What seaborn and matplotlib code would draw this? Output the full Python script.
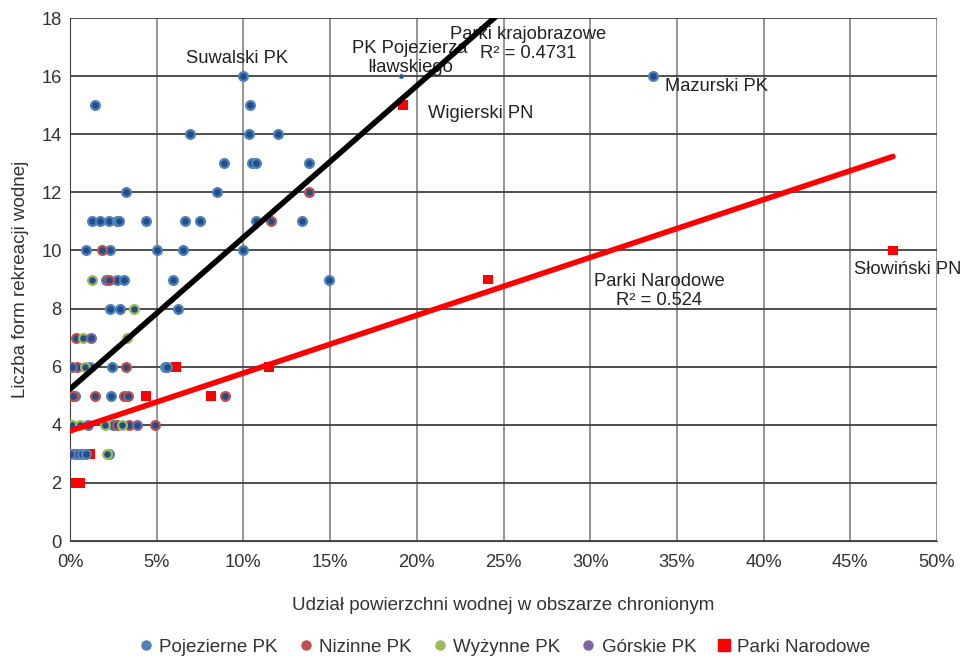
import numpy as np
import pandas as pd
import matplotlib
matplotlib.use("Agg")
import matplotlib.pyplot as plt
from matplotlib.lines import Line2D
from matplotlib.ticker import FuncFormatter
import seaborn as sns

# --- data (x = % water area, y = number of water recreation forms) ---
pojezierne_x = [10.0, 33.6, 1.45, 10.4, 6.9, 10.3, 12.0, 8.9, 10.5, 10.7, 13.8, 3.2, 8.5,
                1.25, 1.75, 2.23, 2.69, 2.84, 4.4, 6.63, 7.5, 10.7, 13.4,
                0.92, 2.3, 5.0, 6.5, 10.0,
                2.08, 2.71, 3.11, 5.94, 14.94,
                2.3, 2.88, 6.24,
                1.15, 2.4, 5.45, 5.6,
                0.29, 2.35,
                2.48,
                0.29, 0.46, 0.67, 0.92, 2.25]
pojezierne_y = [16, 16, 15, 15, 14, 14, 14, 13, 13, 13, 13, 12, 12,
                11, 11, 11, 11, 11, 11, 11, 11, 11, 11,
                10, 10, 10, 10, 10,
                9, 9, 9, 9, 9,
                8, 8, 8,
                6, 6, 6, 6,
                5, 5,
                4,
                3, 3, 3, 3, 3]
ilawski_x = [19.1]
ilawski_y = [16]

nizinne_x = [13.8, 11.6, 1.85, 2.25, 0.33, 0.39, 3.23, 0.16, 1.44, 3.09, 3.36, 8.94, 2.71, 3.42, 4.9]
nizinne_y = [12, 11, 10, 9, 7, 6, 6, 5, 5, 5, 5, 5, 4, 4, 4]

wyzynne_x = [1.28, 3.69, 0.77, 3.27, 0.87, 0.1, 0.58, 2.02, 2.98, 2.12]
wyzynne_y = [9, 8, 7, 7, 6, 4, 4, 4, 4, 3]

gorskie_x = [1.19, 0.1, 1.04, 3.88, 0.0]
gorskie_y = [7, 6, 4, 4, 3]

pn_x = [0.1, 0.35, 0.6, 0.46, 1.15, 4.38, 8.11, 6.11, 11.48, 24.1, 19.2, 47.46]
pn_y = [2, 2, 2, 3, 3, 5, 5, 6, 6, 9, 15, 10]

# linear trendlines as shown on the chart (intercept, slope per 1 %)
pk_trend = (5.23, 0.522)
pn_trend = (3.79, 0.199)

categories = ["Pojezierne PK", "Nizinne PK", "Wyżynne PK", "Górskie PK"]
edge_colors = ["#4F81BD", "#C0504D", "#9BBB59", "#8064A2"]
fill_color = "#1F4E89"

pk = pd.concat([
    pd.DataFrame({"x": pojezierne_x, "y": pojezierne_y, "typ": categories[0]}),
    pd.DataFrame({"x": nizinne_x, "y": nizinne_y, "typ": categories[1]}),
    pd.DataFrame({"x": wyzynne_x, "y": wyzynne_y, "typ": categories[2]}),
    pd.DataFrame({"x": gorskie_x, "y": gorskie_y, "typ": categories[3]}),
    pd.DataFrame({"x": ilawski_x, "y": ilawski_y, "typ": "ilawski"}),
], ignore_index=True)
pn = pd.DataFrame({"x": pn_x, "y": pn_y})

sns.set_style("white")
plt.rcParams["font.family"] = ["Liberation Sans", "DejaVu Sans"]

fig, ax = plt.subplots(figsize=(9.66, 6.58), dpi=100)
fig.subplots_adjust(left=0.0725, right=0.970, top=0.9726, bottom=0.1778)

# national parks squares underneath
sns.scatterplot(data=pn, x="x", y="y", marker="s", s=50, color="#FF0000",
                edgecolor="none", ax=ax, zorder=2, legend=False)

for cat, ec in zip(categories, edge_colors):
    sub = pk[pk["typ"] == cat]
    sns.scatterplot(data=sub, x="x", y="y", s=40, color=fill_color, edgecolor=ec,
                    linewidth=1.6, ax=ax, zorder=3, legend=False)
sub = pk[pk["typ"] == "ilawski"]
sns.scatterplot(data=sub, x="x", y="y", s=10, color=fill_color, edgecolor="#4F81BD",
                linewidth=0.6, ax=ax, zorder=3, legend=False)

# trendlines
xs_pk = np.array([pk["x"].min(), pk["x"].max()])
xs_pn = np.array([pn["x"].min() - 0.1, pn["x"].max()])
sns.lineplot(x=xs_pk, y=pk_trend[0] + pk_trend[1] * xs_pk, color="black", lw=4,
             ax=ax, zorder=4, solid_capstyle="round")
sns.lineplot(x=xs_pn, y=pn_trend[0] + pn_trend[1] * xs_pn, color="#FF0000", lw=4,
             ax=ax, zorder=4, solid_capstyle="round")

ax.set_xlim(0, 50)
ax.set_ylim(0, 18)
ax.set_xticks(np.arange(0, 51, 5))
ax.set_yticks(np.arange(0, 19, 2))
ax.xaxis.set_major_formatter(FuncFormatter(lambda v, p: f"{v:.0f}%"))
ax.tick_params(labelsize=13.2, length=0, colors="#333333")
ax.tick_params(axis="x", pad=9)
ax.tick_params(axis="y", pad=6)
ax.xaxis.grid(True, color="#8C8C8C", lw=1.3)
ax.yaxis.grid(True, color="#404040", lw=1.3)
ax.set_axisbelow(True)
for side in ["top", "right"]:
    ax.spines[side].set_visible(False)
ax.spines["left"].set_color("#404040")
ax.spines["bottom"].set_color("#404040")

ax.set_xlabel("Udział powierzchni wodnej w obszarze chronionym", fontsize=13.5,
              color="#333333", labelpad=19)
ax.set_ylabel("Liczba form rekreacji wodnej", fontsize=13.5, color="#333333", labelpad=9)

txt = dict(fontsize=13.2, color="#222222", linespacing=1.15)
ax.text(9.63, 16.62, "Suwalski PK", ha="center", va="center", **txt)
ax.text(19.6, 16.64, "PK Pojezierza\nIławskiego", ha="center", va="center", **txt)
ax.text(26.4, 17.12, "Parki krajobrazowe\nR² = 0.4731", ha="center", va="center", **txt)
ax.text(20.65, 14.73, "Wigierski PN", ha="left", va="center", **txt)
ax.text(34.3, 15.66, "Mazurski PK", ha="left", va="center", **txt)
ax.text(33.97, 8.6, "Parki Narodowe\nR² = 0.524", ha="center", va="center", **txt)
ax.text(48.3, 9.33, "Słowiński PN", ha="center", va="center", clip_on=False, **txt)

handles = [Line2D([], [], marker="o", ls="", color=c, markersize=6.5) for c in edge_colors]
handles.append(Line2D([], [], marker="s", ls="", color="#FF0000", markersize=8))
labels = categories + ["Parki Narodowe"]
fig.legend(handles, labels, loc="lower center", bbox_to_anchor=(0.523, -0.022), ncol=5,
           frameon=False, fontsize=13.5, handlelength=0.7, handletextpad=0.35,
           columnspacing=1.15, labelcolor="#333333")

fig.savefig("out.png", dpi=100)
